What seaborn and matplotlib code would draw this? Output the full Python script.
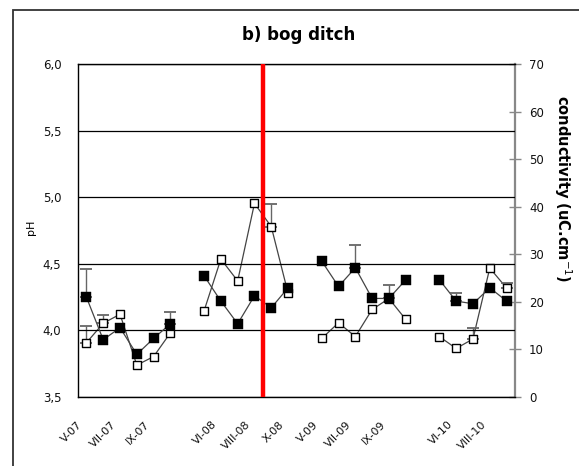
import numpy as np
import pandas as pd
import matplotlib
matplotlib.use("Agg")
import matplotlib.pyplot as plt
import matplotlib.transforms as mtransforms
from matplotlib.patches import Rectangle
import seaborn as sns

# ---- data -------------------------------------------------------------
months = ["V-07", "VI-07", "VII-07", "VIII-07", "IX-07", "X-07", "",
          "V-08", "VI-08", "VII-08", "VIII-08", "IX-08", "X-08", "",
          "V-09", "VI-09", "VII-09", "VIII-09", "IX-09", "X-09", "",
          "V-10", "VI-10", "VII-10", "VIII-10", "IX-10"]
season = [1, 1, 1, 1, 1, 1, 0,
          2, 2, 2, 2, 2, 2, 0,
          3, 3, 3, 3, 3, 3, 0,
          4, 4, 4, 4, 4]
ph = [4.25, 3.93, 4.02, 3.82, 3.94, 4.05, None,
      4.41, 4.22, 4.05, 4.26, 4.17, 4.32, None,
      4.52, 4.33, 4.47, 4.24, 4.24, 4.38, None,
      4.38, 4.22, 4.20, 4.32, 4.22]
ph_err = [0.21, 0, 0, 0, 0, 0.09, None,
          0, 0, 0, 0, 0, 0, None,
          0, 0, 0.17, 0, 0.10, 0, None,
          0, 0.06, 0, 0, 0]
conductivity = [11.4, 15.5, 17.4, 6.7, 8.5, 13.5, None,
                18.1, 29.0, 24.4, 40.7, 35.8, 21.8, None,
                12.3, 15.6, 12.7, 18.4, 20.7, 16.3, None,
                12.7, 10.2, 12.2, 27.1, 22.9]
cond_err = [3.5, 1.7, 0, 0, 0, 0, None,
            0, 0, 0, 0, 4.7, 0, None,
            0, 0, 0, 0, 0, 0, None,
            0, 0, 2.4, 0, 1.1]
ph_ticks = [3.5, 4.0, 4.5, 5.0, 5.5, 6.0]
cond_ticks = [0, 10, 20, 30, 40, 50, 60, 70]
change_after = "VIII-08"   # red marker line after this month

df = pd.DataFrame({"month": months, "season": season, "ph": ph,
                   "ph_err": ph_err, "cond": conductivity, "cond_err": cond_err})
df["pos"] = np.arange(len(df))
for c in ["ph", "ph_err", "cond", "cond_err"]:
    df[c] = pd.to_numeric(df[c])
d = df[df["season"] > 0]

# ---- figure -----------------------------------------------------------
sns.set_style("white")
plt.rcParams["font.family"] = ["DejaVu Sans"]
plt.rcParams["text.color"] = "black"
plt.rcParams["axes.labelcolor"] = "black"
W, H = 579, 466
fig = plt.figure(figsize=(W / 100, H / 100), dpi=100)
L, R, T, B = 78, 515, 64, 397
ax = fig.add_axes([L / W, 1 - B / H, (R - L) / W, (B - T) / H])
ax2 = ax.twinx()
ax.set_zorder(ax2.get_zorder() + 1)
ax.patch.set_visible(False)

line_col = "#444444"

# conductivity (open squares, right axis)
sns.lineplot(data=d, x="pos", y="cond", units="season", estimator=None,
             color=line_col, lw=0.9, ax=ax2, legend=False)
e = d[d["cond_err"] > 0]
ax2.errorbar(e["pos"], e["cond"], yerr=[np.zeros(len(e)), e["cond_err"]],
             fmt="none", ecolor="#666666", elinewidth=1.0, capsize=4, capthick=1.3)
sns.scatterplot(data=d, x="pos", y="cond", marker="s", s=38, color="white",
                edgecolor="black", linewidth=1.0, ax=ax2, legend=False, zorder=3)

# pH (filled squares, left axis)
sns.lineplot(data=d, x="pos", y="ph", units="season", estimator=None,
             color=line_col, lw=0.9, ax=ax, legend=False)
e = d[d["ph_err"] > 0]
ax.errorbar(e["pos"], e["ph"], yerr=[np.zeros(len(e)), e["ph_err"]],
            fmt="none", ecolor="#666666", elinewidth=1.0, capsize=4, capthick=1.3)
sns.scatterplot(data=d, x="pos", y="ph", marker="s", s=62, color="black",
                edgecolor="black", linewidth=0.3, ax=ax, legend=False, zorder=3)

# red line
xr = months.index(change_after) + 0.5
ax.axvline(xr, color="#ff0000", lw=3.2, zorder=5)

# ---- axes -------------------------------------------------------------
n = len(months)
ax.set_xlim(-0.5, n - 0.5)
ax.set_ylim(ph_ticks[0], ph_ticks[-1])
ax2.set_ylim(cond_ticks[0], cond_ticks[-1])

ax.set_yticks(ph_ticks)
ax.set_yticklabels([f"{v:.1f}".replace(".", ",") for v in ph_ticks])
ax.yaxis.grid(True, color="black", lw=0.9)
ax.xaxis.grid(False)
ax.tick_params(axis="y", length=0, pad=12, labelsize=8.5, labelcolor="#111111")

ax.set_xticks(np.arange(-0.5, n, 1.0))
ax.set_xticklabels([])
ax.tick_params(axis="x", which="major", direction="out", length=5, width=0.9, color="black")
ax.set_xticks(np.arange(0, n, 2), minor=True)
ax.set_xticklabels([months[i] for i in range(0, n, 2)], minor=True,
                   rotation=45, ha="right", va="top", rotation_mode="anchor")
ax.tick_params(axis="x", which="minor", length=0, pad=16, labelsize=8,
               labelcolor="#111111")
shift = mtransforms.ScaledTranslation(-9 / 100, 0, fig.dpi_scale_trans)
for lab in ax.get_xticklabels(minor=True):
    lab.set_transform(lab.get_transform() + shift)

ax.set_xlabel("")
ax.set_ylabel("pH", fontsize=8)
ax.yaxis.set_label_coords(-0.097, 0.51)

ax2.set_yticks(cond_ticks)
ax2.set_yticklabels([str(v) for v in cond_ticks])
ax2.tick_params(axis="y", direction="inout", length=8, width=1.0, color="#888888",
                pad=6, labelsize=8.5, labelcolor="#111111")
ax2.set_ylabel("")

for s in ["left", "bottom", "top"]:
    ax.spines[s].set_color("black")
    ax.spines[s].set_linewidth(1.0)
ax.spines["right"].set_visible(False)
for s in ["left", "bottom", "top"]:
    ax2.spines[s].set_visible(False)
ax2.spines["right"].set_color("#888888")
ax2.spines["right"].set_linewidth(1.6)

fig.text(299 / W, 1 - 35 / H, "b) bog ditch", ha="center", va="center",
         fontsize=12, fontweight="bold", color="black")
fig.text(563 / W, 1 - 189 / H, "conductivity (uC.cm$^{-1}$)", rotation=-90,
         ha="center", va="center", fontsize=10.5, fontweight="bold", color="black")

fig.add_artist(Rectangle((13 / W, -0.2), 1.5, 1.2 - 10 / H,
                         transform=fig.transFigure, fill=False,
                         lw=1.3, ec="#333333"))

fig.savefig("out.png", dpi=100, facecolor="white")
